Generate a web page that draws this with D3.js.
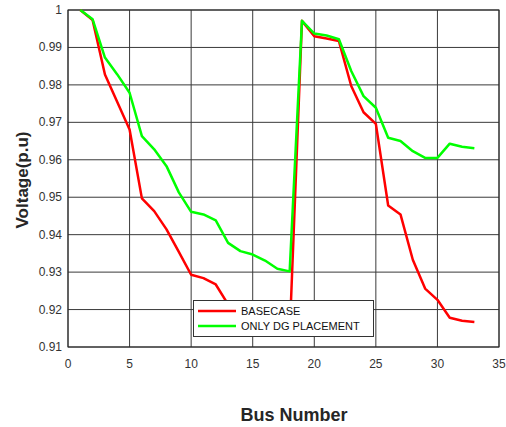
<!DOCTYPE html>
<html>
<head>
<meta charset="utf-8">
<script src="https://cdn.jsdelivr.net/npm/d3@7"></script>
<style>
  body { margin: 0; background: #fff; }
  text { font-family: Arial, "Liberation Sans", sans-serif; }
</style>
</head>
<body>
<div class="chart"></div>
<script>
const width = 506
const height = 427

// bus numbers 1..33
const buses = d3.range(1, 34)

const baseCase = [1.0, 0.9973, 0.9828, 0.9754, 0.9681, 0.9497, 0.9463, 0.9414, 0.9354, 0.9293,
  0.9284, 0.9267, 0.9214, 0.9201, 0.9194, 0.9180, 0.9161, 0.9131, 0.9971, 0.9930,
  0.9924, 0.9917, 0.9797, 0.9727, 0.9696, 0.9478, 0.9454, 0.9333, 0.9256, 0.9226,
  0.9178, 0.9170, 0.9167]

const dgOnly = [1.0, 0.9975, 0.9873, 0.9828, 0.9779, 0.9663, 0.9628, 0.9583, 0.9513, 0.9461,
  0.9454, 0.9438, 0.9378, 0.9356, 0.9347, 0.9331, 0.9309, 0.9302, 0.9971, 0.9937,
  0.9932, 0.9922, 0.9837, 0.9770, 0.9739, 0.9659, 0.9650, 0.9623, 0.9605, 0.9605,
  0.9643, 0.9635, 0.9631]

const xTicks = [0, 5, 10, 15, 20, 25, 30, 35]
const yTicks = [0.91, 0.92, 0.93, 0.94, 0.95, 0.96, 0.97, 0.98, 0.99, 1]

const seriesNames = ["BASECASE", "ONLY DG PLACEMENT"]
const seriesColors = ["#ff0000", "#00ff00"]

const margin = { left: 68, right: 7, top: 10, bottom: 80 }

const svg = d3.select(".chart").append("svg")
  .attr("width", width)
  .attr("height", height)

const x = d3.scaleLinear().domain([0, 35]).range([margin.left, width - margin.right])
const y = d3.scaleLinear().domain([0.91, 1]).range([height - margin.bottom, margin.top])

// grid
svg.append("g").selectAll("line").data(xTicks).enter().append("line")
  .attr("x1", d => x(d)).attr("x2", d => x(d))
  .attr("y1", y(1)).attr("y2", y(0.91))
  .style("stroke", "#3a3a3a").style("stroke-width", 1)
svg.append("g").selectAll("line").data(yTicks).enter().append("line")
  .attr("x1", x(0)).attr("x2", x(35))
  .attr("y1", d => y(d)).attr("y2", d => y(d))
  .style("stroke", "#3a3a3a").style("stroke-width", 1)

// frame
svg.append("rect")
  .attr("x", x(0)).attr("y", y(1))
  .attr("width", x(35) - x(0)).attr("height", y(0.91) - y(1))
  .style("fill", "none").style("stroke", "#262626").style("stroke-width", 1)

// tick labels
svg.append("g").selectAll("text").data(yTicks).enter().append("text")
  .attr("x", x(0) - 6).attr("y", d => y(d) + 4)
  .attr("text-anchor", "end")
  .style("font-size", "12px").style("fill", "#333")
  .text(d => d3.format("")(+d.toFixed(2)))
svg.append("g").selectAll("text").data(xTicks).enter().append("text")
  .attr("x", d => x(d)).attr("y", y(0.91) + 21)
  .attr("text-anchor", "middle")
  .style("font-size", "12px").style("fill", "#333")
  .text(d => d)

// lines
const line = d3.line().x((d, i) => x(buses[i])).y(d => y(d))
const seriesData = [baseCase, dgOnly]
svg.append("g").selectAll("path").data(seriesData).enter().append("path")
  .attr("d", d => line(d))
  .style("fill", "none")
  .style("stroke", (d, i) => seriesColors[i])
  .style("stroke-width", 2.5)
  .style("stroke-linejoin", "round")

// legend
const legend = svg.append("g").attr("transform", "translate(193,300)")
legend.append("rect")
  .attr("x", 0.5).attr("y", 0.5).attr("width", 180).attr("height", 36)
  .style("fill", "#fff").style("stroke", "#333").style("stroke-width", 1)
const items = legend.selectAll(".legend-item").data(seriesNames).enter().append("g")
  .attr("transform", (d, i) => "translate(0," + (11 + i * 15) + ")")
items.append("line")
  .attr("x1", 5).attr("x2", 43).attr("y1", 0).attr("y2", 0)
  .style("stroke", (d, i) => seriesColors[i]).style("stroke-width", 2.5)
items.append("text")
  .attr("x", 48).attr("y", 4)
  .style("font-size", "11px").style("fill", "#111")
  .text(d => d)

// axis titles
svg.append("text")
  .attr("transform", "translate(28,180) rotate(-90)")
  .attr("text-anchor", "middle")
  .style("font-size", "17px").style("font-weight", "bold").style("fill", "#262626")
  .text("Voltage(p.u)")
svg.append("text")
  .attr("x", 294).attr("y", 421)
  .attr("text-anchor", "middle")
  .style("font-size", "18px").style("font-weight", "bold").style("fill", "#262626")
  .text("Bus Number")
</script>
</body>
</html>
